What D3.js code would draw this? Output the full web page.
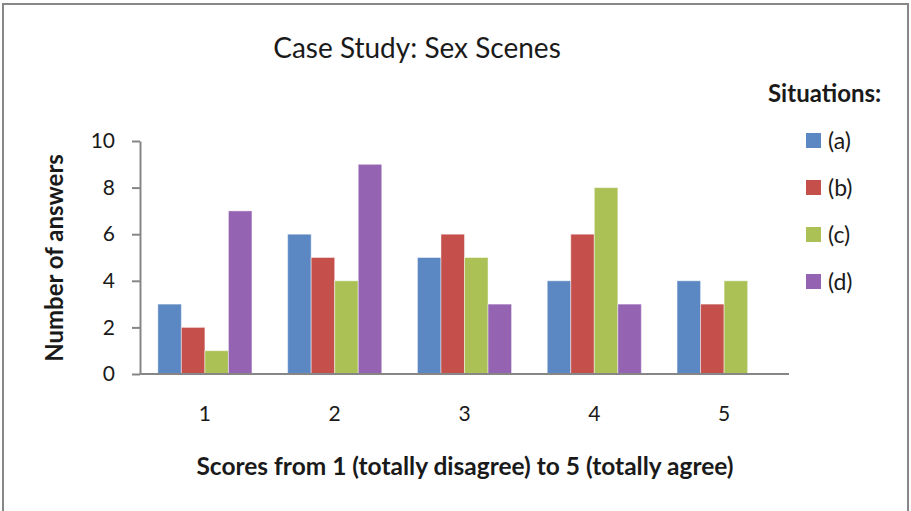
<!DOCTYPE html>
<html>
<head>
<meta charset="utf-8">
<script src="https://cdn.jsdelivr.net/npm/d3@7"></script>
<style>
  html, body { margin: 0; padding: 0; background: #fff; }
  svg { display: block; font-family: Lato, "Open Sans", sans-serif; }
</style>
</head>
<body>
<svg id="chart" width="911" height="511"></svg>
<script>
// Scores on the x axis
const scores = ["1", "2", "3", "4", "5"];
// Situations shown as series
const situations = ["(a)", "(b)", "(c)", "(d)"];
// Number of answers per score, one array per situation
const seriesA = [3, 6, 5, 4, 4];
const seriesB = [2, 5, 6, 6, 3];
const seriesC = [1, 4, 5, 8, 4];
const seriesD = [7, 9, 3, 3, 0];
const yTicks = [0, 2, 4, 6, 8, 10];
const colors = ["#5B88C3", "#C44F4B", "#ABC156", "#9464B3"];

const allSeries = [seriesA, seriesB, seriesC, seriesD];

const svg = d3.select("#chart");

// outer frame
svg.append("rect")
  .attr("x", 3).attr("y", 4).attr("width", 905).attr("height", 520)
  .attr("fill", "none").attr("stroke", "#878787").attr("stroke-width", 2);

const plot = { left: 140, right: 789, top: 141, bottom: 374 };

const x0 = d3.scaleBand().domain(scores).range([plot.left, plot.right]).paddingInner(0.275).paddingOuter(0.1375);
const x1 = d3.scaleBand().domain(situations).range([0, x0.bandwidth()]);
const y = d3.scaleLinear().domain([0, 10]).range([plot.bottom, plot.top]);

// bars
const groups = svg.append("g").selectAll("g")
  .data(scores).join("g")
  .attr("transform", d => `translate(${x0(d)},0)`);

groups.selectAll("rect")
  .data((d, i) => situations.map((s, k) => ({ s, k, v: allSeries[k][i] })).filter(e => e.v > 0))
  .join("rect")
  .attr("x", e => x1(e.s))
  .attr("y", e => y(e.v))
  .attr("width", x1.bandwidth())
  .attr("height", e => y(0) - y(e.v))
  .attr("fill", e => colors[e.k])
  .attr("stroke", "rgba(255,255,255,0.45)")
  .attr("stroke-width", 1);

// y axis
const yAxis = d3.axisLeft(y).tickValues(yTicks).tickSize(8).tickSizeOuter(0).tickPadding(17);
const gy = svg.append("g").attr("transform", `translate(${plot.left},0)`).call(yAxis);
gy.select(".domain").attr("stroke", "#868686").attr("stroke-width", 2);
gy.selectAll(".tick line").attr("stroke", "#868686").attr("stroke-width", 2);
gy.selectAll(".tick text").attr("font-size", 21).attr("fill", "#1a1a1a").attr("font-family", "Lato, sans-serif");

// x axis
const xAxis = d3.axisBottom(x0).tickSize(0).tickPadding(32);
const gx = svg.append("g").attr("transform", `translate(0,${plot.bottom})`).call(xAxis);
gx.select(".domain").attr("stroke", "#868686").attr("stroke-width", 2)
  .attr("d", `M${plot.left},0H${plot.right}`);
gx.selectAll(".tick text").attr("font-size", 21).attr("fill", "#1a1a1a").attr("font-family", "Lato, sans-serif");

// title
svg.append("text")
  .attr("x", 417).attr("y", 58)
  .attr("text-anchor", "middle")
  .attr("font-size", 28).attr("fill", "#1a1a1a")
  .text("Case Study: Sex Scenes");

// axis titles
svg.append("text")
  .attr("transform", "translate(63,258) rotate(-90)")
  .attr("text-anchor", "middle")
  .attr("font-size", 24).attr("font-weight", "bold").attr("fill", "#1a1a1a")
  .text("Number of answers");

svg.append("text")
  .attr("x", 465).attr("y", 475)
  .attr("text-anchor", "middle")
  .attr("font-size", 24.5).attr("font-weight", "bold").attr("fill", "#1a1a1a")
  .text("Scores from 1 (totally disagree) to 5 (totally agree)");

// legend
svg.append("text")
  .attr("x", 768).attr("y", 102)
  .attr("font-size", 24).attr("font-weight", "bold").attr("fill", "#1a1a1a")
  .text("Situations:");

const legend = svg.append("g").selectAll("g")
  .data(situations).join("g")
  .attr("transform", (d, i) => `translate(806,${140.5 + i * 47})`);
legend.append("rect")
  .attr("x", 0).attr("y", -7.5).attr("width", 15).attr("height", 15)
  .attr("fill", (d, i) => colors[i]);
legend.append("text")
  .attr("x", 22).attr("y", 8)
  .attr("font-size", 23).attr("fill", "#1a1a1a")
  .text(d => d);
</script>
</body>
</html>
